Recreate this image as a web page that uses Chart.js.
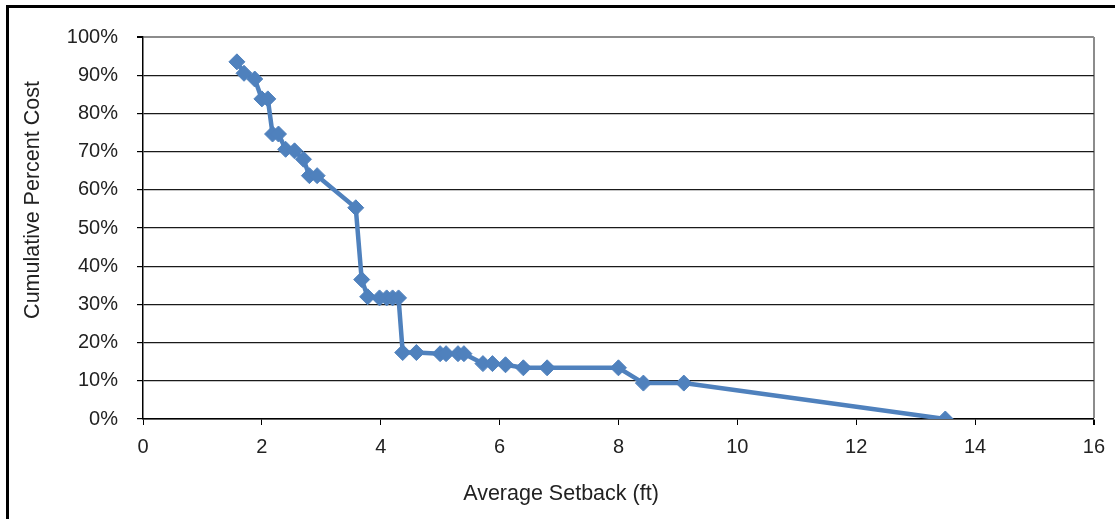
<!DOCTYPE html>
<html>
<head>
<meta charset="utf-8">
<script src="https://cdn.jsdelivr.net/npm/chart.js@4"></script>
<style>
  html, body { margin: 0; padding: 0; background: #fff; }
  #wrap { position: relative; width: 1115px; height: 519px; }
  #frame { position: absolute; left: 6px; top: 5px; width: 1120px; height: 530px;
           border-top: 3px solid #000; border-left: 3px solid #000; pointer-events: none; }
  canvas { position: absolute; left: 0; top: 0; }
</style>
</head>
<body>
<div id="wrap">
  <canvas id="myChart" width="1115" height="519"></canvas>
  <div id="frame"></div>
</div>
<script>
// average setback (ft)
var setback = [1.58, 1.70, 1.88, 2.00, 2.10, 2.18, 2.28, 2.40, 2.55, 2.70, 2.80, 2.93,
    3.58, 3.68, 3.78, 3.98, 4.10, 4.20, 4.30, 4.37, 4.60, 5.00, 5.10, 5.30, 5.40,
    5.72, 5.88, 6.10, 6.40, 6.80, 8.00, 8.42, 9.10, 13.50];
// cumulative percent cost (%)
var cumCost = [93.5, 90.5, 89.0, 83.8, 83.8, 74.6, 74.6, 70.6, 70.2, 68.0, 63.7, 63.7,
    55.3, 36.5, 32.0, 31.7, 31.7, 31.7, 31.7, 17.4, 17.4, 17.1, 17.1, 17.1, 17.1,
    14.5, 14.5, 14.2, 13.4, 13.4, 13.4, 9.4, 9.4, 0];

var xTicks = [0, 2, 4, 6, 8, 10, 12, 14, 16];
var yTicks = [0, 10, 20, 30, 40, 50, 60, 70, 80, 90, 100];
var xTitle = 'Average Setback (ft)';
var yTitle = 'Cumulative Percent Cost';

var points = [];
for (var i = 0; i < setback.length; i++) {
    points.push({ x: setback[i], y: cumCost[i] });
}

var blue = '#4F81BD';
var fontFamily = '"Liberation Sans", Arial, sans-serif';
var font = { family: fontFamily, size: 20 };

// Excel puts the axis titles a bit off-centre, so draw them by hand
var axisTitles = {
    id: 'axisTitles',
    afterDraw: function(chart) {
        var c = chart.ctx;
        c.save();
        c.fillStyle = '#222';
        c.font = '21.5px ' + fontFamily;
        c.textAlign = 'center';
        c.textBaseline = 'middle';
        c.fillText(xTitle, 561, 494);
        c.translate(33, 200);
        c.rotate(-Math.PI / 2);
        c.fillText(yTitle, 0, 0);
        c.restore();
    }
};

var ctx = document.getElementById('myChart').getContext('2d');
var chart = new Chart(ctx, {
    type: 'scatter',
    data: {
        datasets: [{
            label: yTitle,
            data: points,
            showLine: true,
            borderColor: blue,
            backgroundColor: blue,
            borderWidth: 4.5,
            pointStyle: 'rectRot',
            pointRadius: 8,
            pointBorderWidth: 1,
            pointBorderColor: blue,
            pointBackgroundColor: blue
        }]
    },
    plugins: [axisTitles],
    options: {
        responsive: false,
        animation: false,
        layout: { padding: { top: 37, right: 20, left: 0, bottom: 0 } },
        plugins: {
            legend: { display: false },
            tooltip: { enabled: false }
        },
        scales: {
            x: {
                type: 'linear',
                min: 0,
                max: 16,
                afterBuildTicks: function(scale) {
                    scale.ticks = xTicks.map(function(v) { return { value: v }; });
                },
                afterFit: function(scale) { scale.height = 100; },
                ticks: { color: '#222', font: font, padding: 10, maxRotation: 0 },
                grid: {
                    color: function(c) { return c.tick && c.tick.value === 16 ? '#8c8c8c' : 'rgba(0,0,0,0)'; },
                    lineWidth: function(c) { return c.tick && c.tick.value === 16 ? 2 : 1; },
                    tickColor: '#000',
                    tickLength: 6
                },
                border: { color: '#000', width: 1.5 }
            },
            y: {
                min: 0,
                max: 100,
                afterBuildTicks: function(scale) {
                    scale.ticks = yTicks.map(function(v) { return { value: v }; });
                },
                afterFit: function(scale) { scale.width = 143; },
                ticks: {
                    color: '#222',
                    font: font,
                    padding: 19,
                    callback: function(v) { return v + '%'; }
                },
                grid: {
                    color: function(c) { return c.tick && c.tick.value === 100 ? '#8c8c8c' : '#1a1a1a'; },
                    lineWidth: function(c) { return c.tick && c.tick.value === 100 ? 2 : 1.2; },
                    tickColor: '#000',
                    tickLength: 6
                },
                border: { color: '#000', width: 1.5 }
            }
        }
    }
});
</script>
</body>
</html>
